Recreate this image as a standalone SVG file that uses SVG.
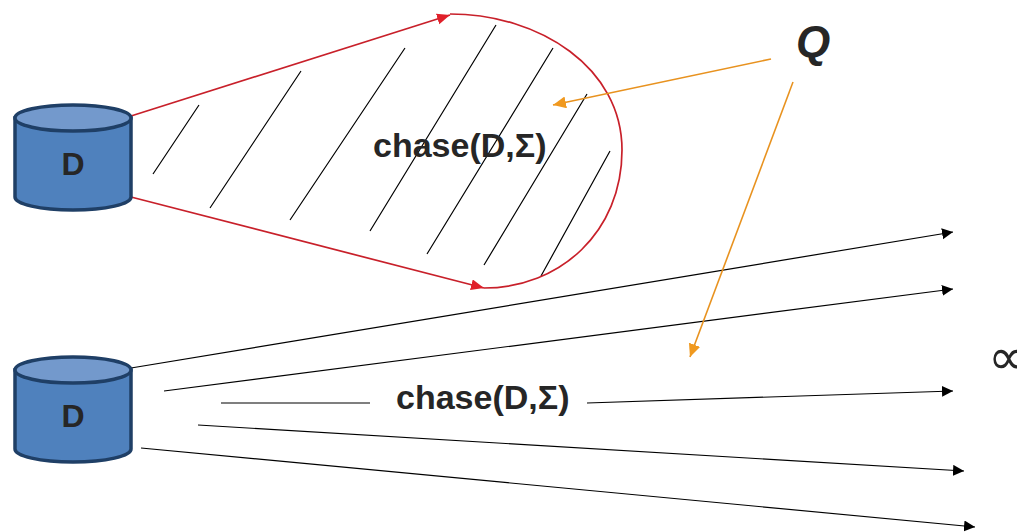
<svg xmlns="http://www.w3.org/2000/svg" width="1017" height="532" viewBox="0 0 1017 532">
<style>
.lbl{font-family:"Liberation Sans",Arial,sans-serif;font-weight:700;fill:#262626}
.body{fill:#4f81bd;stroke:#1f3f66;stroke-width:3.5}
.top{fill:#7399cc;stroke:#1f3f66;stroke-width:3.5}
.k{stroke:#000;stroke-width:1.2;fill:none}
.r{stroke:#c8202a;stroke-width:1.7;fill:none}
.o{stroke:#e8921f;stroke-width:1.6;fill:none}
</style>
<defs>
<marker id="ak" markerUnits="userSpaceOnUse" markerWidth="12" markerHeight="12" refX="11" refY="5.5" orient="auto"><path d="M0 0L11 5.5L0 11Z" fill="#000"/></marker>
<marker id="ar" markerUnits="userSpaceOnUse" markerWidth="14" markerHeight="12" refX="13" refY="5.5" orient="auto"><path d="M0 0L13 5.5L0 11Z" fill="#e0202a"/></marker>
<marker id="ao" markerUnits="userSpaceOnUse" markerWidth="14" markerHeight="13" refX="13" refY="6" orient="auto"><path d="M0 0L13 6L0 12Z" fill="#f0991f"/></marker>
</defs>
<g id="hatching">
<path class="k" d="M199 105L153 174M301 71L210 208M405 48L290 220M496 25L370 231M553 48L427 254M587 94L484 265M610 151L541 276"/>
</g>
<g id="connectors">
<path class="r" marker-end="url(#ar)" d="M131 116L450 15"/>
<path class="r" marker-end="url(#ar)" d="M131 197L484 288"/>
<path class="r" d="M450 14C540 14 622 68 622 150C622 232 560 288 484 288"/>
<path class="k" marker-end="url(#ak)" d="M131 368L953 232"/>
<path class="k" marker-end="url(#ak)" d="M164 391L953 289"/>
<path class="k" d="M221 403L370 403"/>
<path class="k" marker-end="url(#ak)" d="M587 403L953 391"/>
<path class="k" marker-end="url(#ak)" d="M198 425L964 471"/>
<path class="k" marker-end="url(#ak)" d="M141 448L975 527"/>
<path class="o" marker-end="url(#ao)" d="M771 59L553 105"/>
<path class="o" marker-end="url(#ao)" d="M793 82L690 357"/>
</g>
<g id="db1">
<path class="body" d="M15 118V197C15 204 40 210 73 210C106 210 131 204 131 197V118Z"/>
<ellipse class="top" cx="73" cy="118" rx="58" ry="13"/>
<text class="lbl" x="73" y="175" font-size="32" text-anchor="middle">D</text>
</g>
<g id="db2">
<path class="body" d="M15 370V449C15 456 40 462 73 462C106 462 131 456 131 449V370Z"/>
<ellipse class="top" cx="73" cy="370" rx="58" ry="13"/>
<text class="lbl" x="73" y="427" font-size="32" text-anchor="middle">D</text>
</g>
<g id="labels">
<text class="lbl" x="373" y="157" font-size="34">chase(D,Σ)</text>
<text class="lbl" x="396" y="409" font-size="34">chase(D,Σ)</text>
<text class="lbl" x="796" y="57" font-size="44" font-style="italic">Q</text>
<text x="988" y="374" font-size="50" fill="#262626" font-family="'DejaVu Sans',sans-serif">∝</text>
</g>
</svg>
